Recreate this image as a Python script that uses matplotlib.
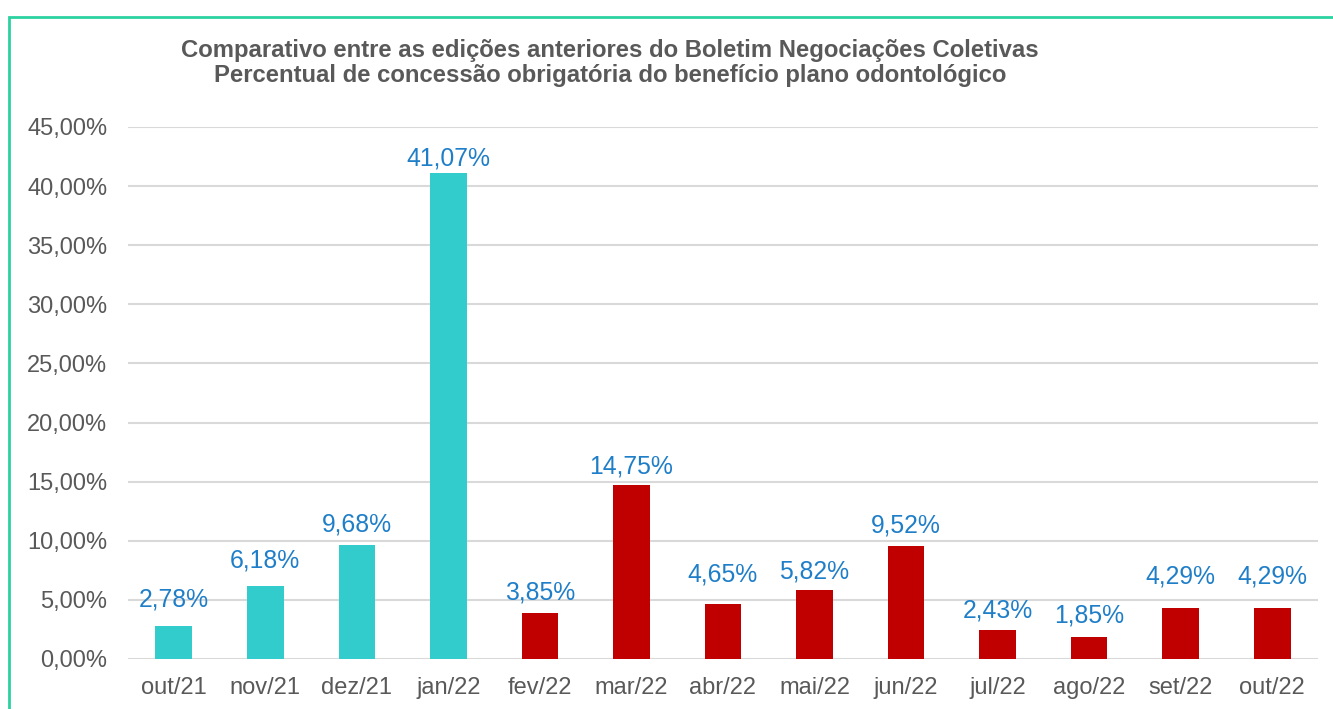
import matplotlib
matplotlib.use("Agg")
import matplotlib.pyplot as plt
from matplotlib.patches import Rectangle

categories = ["out/21", "nov/21", "dez/21", "jan/22", "fev/22", "mar/22", "abr/22",
              "mai/22", "jun/22", "jul/22", "ago/22", "set/22", "out/22"]
values = [2.78, 6.18, 9.68, 41.07, 3.85, 14.75, 4.65, 5.82, 9.52, 2.43, 1.85, 4.29, 4.29]
colors = ["#33CCCC"] * 4 + ["#C00000"] * 9
yticks = [0, 5, 10, 15, 20, 25, 30, 35, 40, 45]
title_lines = ["Comparativo entre as edições anteriores do Boletim Negociações Coletivas",
               "Percentual de concessão obrigatória do benefício plano odontológico"]
# style: gap (px) between each data label baseline and its bar top
label_gap_px = [20, 18, 13, 8, 14, 11, 23, 12, 14, 13, 15, 25, 25]

plt.rcParams['font.family'] = ['Liberation Sans', 'DejaVu Sans']
W, H = 1333, 709
fig = plt.figure(figsize=(W / 100, H / 100), dpi=100)
fig.patch.set_facecolor("white")

ax = fig.add_axes([128 / W, 1 - 659 / H, (1318 - 128) / W, (659 - 127) / H])
x = list(range(len(categories)))
ax.bar(x, values, width=0.4, color=colors, zorder=3)
ax.set_xlim(-0.5, len(categories) - 0.5)
ax.set_ylim(0, 45)
ax.set_yticks(yticks)
ax.set_yticklabels([f"{v:.2f}".replace(".", ",") + "%" for v in yticks])
ax.set_xticks(x)
ax.set_xticklabels(categories)
ax.tick_params(axis="both", length=0, labelsize=17, colors="#595959")
ax.tick_params(axis="y", pad=15)
ax.tick_params(axis="x", pad=13)
ax.grid(axis="y", color="#D9D9D9", linewidth=1.5, zorder=0)
for s in ax.spines.values():
    s.set_visible(False)

for xi, v, g in zip(x, values, label_gap_px):
    ax.annotate(f"{v:.2f}".replace(".", ",") + "%", (xi, v), xytext=(0, g * 0.72),
                textcoords="offset points", ha="center", va="baseline",
                fontsize=17.8, color="#1F7EC8")

fig.text(610 / W, 1 - 57 / H, title_lines[0], ha="center", va="baseline",
         fontsize=17.2, fontweight="bold", color="#595959")
fig.text(610 / W, 1 - 82 / H, title_lines[1], ha="center", va="baseline",
         fontsize=17.2, fontweight="bold", color="#595959")

# frame border (left and top visible)
fig.add_artist(Rectangle((9 / W, -0.1), 1.2, 1 - 17 / H + 0.1, transform=fig.transFigure,
                         fill=False, edgecolor="#2BD1A0", linewidth=2))

fig.savefig("out.png", dpi=100)
